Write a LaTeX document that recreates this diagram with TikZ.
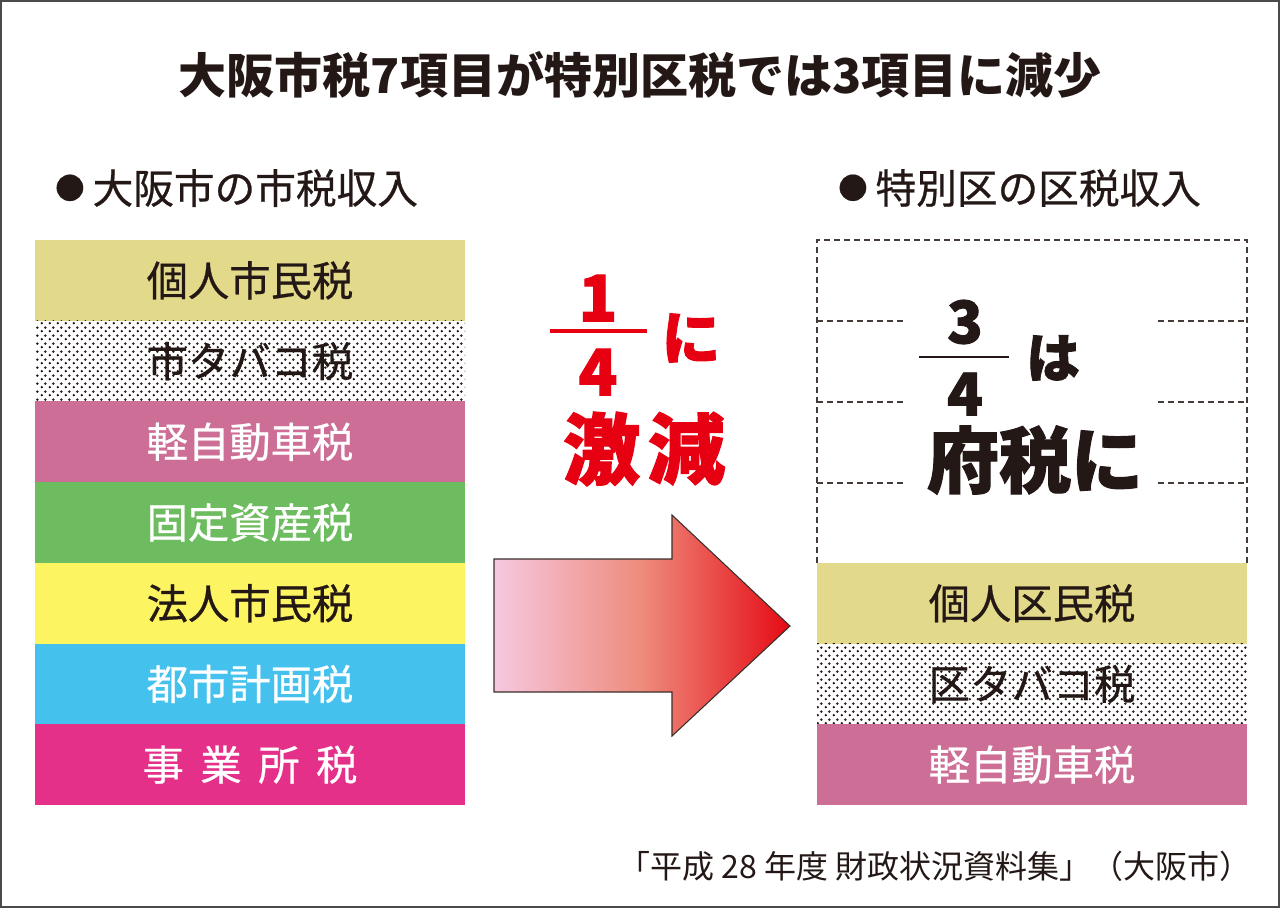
\documentclass[tikz,border=0pt]{standalone}
\usepackage{fontspec}
\newfontfamily\jp{Noto Sans CJK JP}
\newfontfamily\jpmed{Noto Sans CJK JP}[FakeBold=0.6]
\newfontfamily\jpheavy{Noto Sans CJK JP}[BoldFeatures={FakeBold=1.6}]
\usetikzlibrary{patterns.meta}
\definecolor{ink}{HTML}{231815}
\definecolor{khaki}{HTML}{E2DA8A}
\definecolor{mauve}{HTML}{CD6E97}
\definecolor{leaf}{HTML}{6DBC5F}
\definecolor{lemon}{HTML}{FDF462}
\definecolor{sky}{HTML}{45C1EE}
\definecolor{magent}{HTML}{E5308A}
\definecolor{redtxt}{HTML}{E60012}
\definecolor{frame}{HTML}{4A4A4A}
\definecolor{arrowL}{HTML}{F6C8DF}
\definecolor{arrowM}{HTML}{EE8B7C}
\definecolor{arrowR}{HTML}{E50A14}
\tikzdeclarepattern{
  name=halftone,
  type=uncolored,
  bounding box={(0pt,0pt) and (6pt,6pt)},
  tile size={(6pt,6pt)},
  code={
    \fill (1.5pt,1.5pt) circle (1.1pt);
    \fill (4.5pt,4.5pt) circle (1.1pt);
  }
}
\newcommand\mybullet{\raisebox{3.4pt}{\fontsize{22}{22}\selectfont ●}\hspace{6pt}}
\tikzset{
  taxbox/.style={minimum width=322.5pt, minimum height=60.6pt, inner sep=0pt, outer sep=0pt,
    font=\jpmed\fontsize{31}{31}\selectfont, anchor=center},
  dots/.style={preaction={fill=white}, pattern=halftone, pattern color=ink, text=ink},
  dashline/.style={draw=ink!85, line width=0.8pt, dash pattern=on 4.5pt off 3pt},
  redbig/.style={text=redtxt, inner sep=0pt},
  blkbig/.style={text=ink, inner sep=0pt},
  subhead/.style={font=\jpmed\fontsize{30.5}{30.5}\selectfont, text=ink, anchor=west, inner sep=0pt},
}
\begin{document}
\begin{tikzpicture}[x=0.75pt, y=-0.75pt]
\useasboundingbox (0,0) rectangle (1280,908);
\draw[frame, line width=1.6pt] (1,1) rectangle (1279,907);

% title
\node[blkbig, font=\jp\bfseries\fontsize{36}{36}\selectfont] (title) at (640,75) {大阪市税7項目が特別区税では3項目に減少};

% subheads
\node[subhead] (headL) at (55,188) {\mybullet 大阪市の市税収入};
\node[subhead] (headR) at (838,188) {\mybullet 特別区の区税収入};

% left column
\node[taxbox, fill=khaki, text=ink] (l1) at (250,280.36) {個人市民税};
\node[taxbox, dots] (l2) at (250,361.07) {市タバコ税};
\node[taxbox, fill=mauve, text=white] (l3) at (250,441.79) {軽自動車税};
\node[taxbox, fill=leaf, text=white] (l4) at (250,522.5) {固定資産税};
\node[taxbox, fill=lemon, text=ink] (l5) at (250,603.21) {法人市民税};
\node[taxbox, fill=sky, text=white] (l6) at (250,683.93) {都市計画税};
\node[taxbox, fill=magent, text=white] (l7) at (250,764.64) {事\hspace{0.4em}業\hspace{0.4em}所\hspace{0.4em}税};

% right column
\node[taxbox, fill=khaki, text=ink] (r1) at (1032,603.21) {個人区民税};
\node[taxbox, dots] (r2) at (1032,683.93) {区タバコ税};
\node[taxbox, fill=mauve, text=white] (r3) at (1032,764.64) {軽自動車税};

% dashed area
\draw[dashline] (817,563) -- (817,240) -- (1247,240) -- (1247,563);
\foreach \yy in {321,402,483}{
  \draw[dashline] (817,\yy) -- (907,\yy);
  \draw[dashline] (1158,\yy) -- (1247,\yy);
}

% red text
\node[redbig, font=\jpheavy\bfseries\fontsize{48}{48}\selectfont] (one) at (598,298) {1};
\draw[redtxt, line width=2.4pt] (550,331) -- (647,331);
\node[redbig, font=\jpheavy\bfseries\fontsize{48}{48}\selectfont] (four) at (598,372) {4};
\node[redbig, font=\jpheavy\bfseries\fontsize{44}{44}\selectfont] (ni) at (691,338) {に};
\node[redbig, font=\jpheavy\bfseries\fontsize{58}{58}\selectfont] (gekigen) at (644,449) {激\hspace{0.1em}減};

% black text
\node[blkbig, font=\jpheavy\bfseries\fontsize{44}{44}\selectfont] (three) at (965,322) {3};
\draw[ink, line width=1.8pt] (919,357) -- (1009,357);
\node[blkbig, font=\jpheavy\bfseries\fontsize{44}{44}\selectfont] (fourb) at (965,394) {4};
\node[blkbig, font=\jpheavy\bfseries\fontsize{40}{40}\selectfont] (ha) at (1053,358) {は};
\node[blkbig, font=\jpheavy\bfseries\fontsize{54}{54}\selectfont] (fuzei) at (1035,460) {府税に};

% arrow
\coordinate (tip) at (790,626);
\shade[left color=arrowL, right color=arrowR, middle color=arrowM]
  (494,559) -- (672,559) -- (672,515) -- (tip) -- (672,736) -- (672,692) -- (494,692) -- cycle;
\draw[ink!90, line width=0.8pt, line join=miter]
  (494,559) -- (672,559) -- (672,515) -- (tip) -- (672,736) -- (672,692) -- (494,692) -- cycle;

% source
\node[text=ink, font=\jp\fontsize{24}{24}\selectfont, anchor=east, inner sep=0pt] (src) at (1252,866) {「平成 28 年度 財政状況資料集」（大阪市）};
\end{tikzpicture}
\end{document}
